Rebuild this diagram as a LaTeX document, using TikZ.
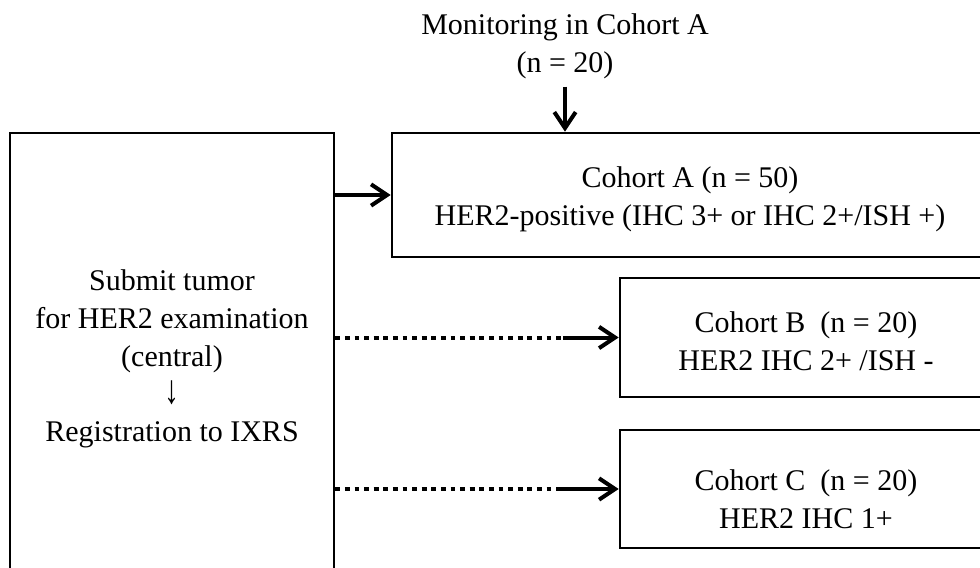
\documentclass[tikz,border=0pt]{standalone}
\usepackage{fontspec}
\setmainfont{Liberation Serif}
\usetikzlibrary{arrows.meta,fit}
\begin{document}
\begin{tikzpicture}[x=0.75pt,y=-0.75pt,
  box/.style={draw, line width=2pt, rectangle, inner sep=0pt},
  txt/.style={align=center, font=\fontsize{22.5}{28.2}\selectfont, inner sep=0pt},
  arr/.style={line width=3pt, -{Straight Barb[length=12pt,width=16pt]}},
  dots/.style={line width=3pt, dash pattern=on 3.6pt off 3.6pt}]
\useasboundingbox (0,0) rectangle (980,567);
\clip (0,0) rectangle (980,567);

% boxes (right and bottom sides run off the page)
\node[box, fit={(10,133)(334,600)}] (L) {};
\node[box, fit={(392,133)(1010,257)}] (A) {};
\node[box, fit={(620,278)(1010,397)}] (B) {};
\node[box, fit={(620,430)(1010,548)}] (C) {};

% texts
\node[txt] (M) at (565,46) {Monitoring in Cohort A\\(n = 20)};
\node[txt] (Lt) at (172,359) {Submit tumor\\for HER2 examination\\(central)\\\scalebox{1}[1.35]{↓}\\Registration to IXRS};
\node[txt] (At) at (690,199) {Cohort A (n = 50)\\HER2-positive (IHC 3+ or IHC 2+/ISH +)};
\node[txt] (Bt) at (806,341) {Cohort B~~(n = 20)\\HER2 IHC 2+ /ISH -};
\node[txt] (Ct) at (806,499) {Cohort C~~(n = 20)\\HER2 IHC 1+};

% connectors
\coordinate (bmid) at (563,0);
\coordinate (cmid) at (558,0);
\draw[arr, shorten <=6pt] (M.south) -- (M.south |- A.north);
\draw[arr] (L.east |- A.west) -- (A.west);
\draw[dots] (L.east |- B.west) -- (bmid |- B.west);
\draw[arr] (bmid |- B.west) -- (B.west);
\draw[dots] (L.east |- C.west) -- (cmid |- C.west);
\draw[arr] (cmid |- C.west) -- (C.west);
\end{tikzpicture}
\end{document}
